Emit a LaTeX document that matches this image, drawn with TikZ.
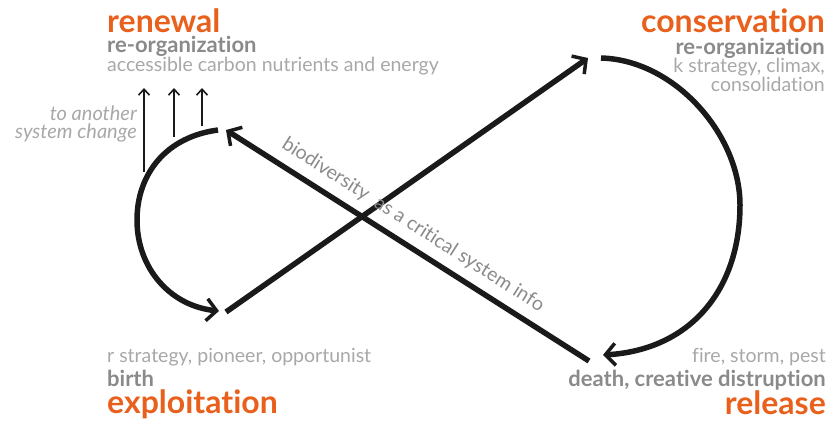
\documentclass[tikz,border=0pt]{standalone}
\usepackage{fontspec}
\setmainfont{Lato}[Ligatures=NoCommon]
\usetikzlibrary{arrows.meta}
\definecolor{phaseorange}{HTML}{E8601C}
\definecolor{phasegrey}{HTML}{8A8A8A}
\definecolor{notegrey}{HTML}{A8A8A8}
\definecolor{cycleblack}{HTML}{1A1A1A}

\begin{document}
\begin{tikzpicture}[x=1pt,y=-1pt]
        \tikzset{phase/.style = {inner sep=0pt,text=phaseorange,font=\fontsize{32}{32}\selectfont\bfseries}};
        \tikzset{stage/.style = {inner sep=0pt,text=phasegrey,font=\fontsize{22}{22}\selectfont\bfseries}};
        \tikzset{note/.style = {inner sep=0pt,text=notegrey,font=\fontsize{19.5}{19.5}\selectfont}};
        \tikzset{cycle/.style = {draw=cycleblack,line width=5.5pt,-{Straight Barb[length=10pt,width=22pt,line width=3.5pt]}}};
        \tikzset{escape/.style = {draw=cycleblack,line width=1.8pt,-{Straight Barb[length=6pt,width=11pt,line width=1.6pt]}}};
        \useasboundingbox (0,0) rectangle (833,425);
        \node[phase,anchor=base west] (renewal) at (107,33) {renewal};
        \node[stage,anchor=base west] (reorgl) at (107,53) {re-organization};
        \node[note,anchor=base west] (accessible) at (107,72) {accessible carbon nutrients and energy};
        \node[note,anchor=base east,font=\fontsize{20}{20}\selectfont\itshape] (another) at (137,121) {to another};
        \node[note,anchor=base east,font=\fontsize{20}{20}\selectfont\itshape] (syschange) at (137,139) {system change};
        \node[phase,anchor=base east] (conservation) at (825,33) {conservation};
        \node[stage,anchor=base east] (reorgr) at (825,55) {re-organization};
        \node[note,anchor=base east] (kstrategy) at (825,73) {k strategy, climax,};
        \node[note,anchor=base east] (consolidation) at (825,92) {consolidation};
        \node[note,anchor=base west] (rstrategy) at (107,362) {r strategy, pioneer, opportunist};
        \node[stage,anchor=base west] (birth) at (107,386) {birth};
        \node[phase,anchor=base west] (exploitation) at (107,413) {exploitation};
        \node[note,anchor=base east] (fire) at (826,362) {fire, storm, pest};
        \node[stage,anchor=base east] (death) at (826,386) {death, creative distruption};
        \node[phase,anchor=base east] (release) at (826,414) {release};
        \coordinate (ltop) at (218,130);
        \coordinate (lbot) at (219,311);
        \coordinate (rtop) at (601,58);
        \coordinate (rbot) at (603,355);
        \coordinate (xstart) at (226,312);
        \coordinate (xtip) at (588,58);
        \coordinate (ystart) at (589,361);
        \coordinate (ytip) at (226,130);
        \coordinate (foot1) at (144,172);
        \coordinate (foot2) at (174,137);
        \coordinate (foot3) at (202,126);
        \coordinate (head1) at (144,88);
        \coordinate (head2) at (174,88);
        \coordinate (head3) at (202,88);
        \draw[cycle] (ltop) .. controls (165,137) and (137,175) .. (137,220) .. controls (137,268) and (170,306) .. (lbot);
        \draw[cycle] (rtop) .. controls (675,60) and (740,135) .. (740,205) .. controls (740,290) and (690,350) .. (rbot);
        \draw[cycle] (xstart) -- (xtip);
        \draw[cycle] (ystart) -- (ytip);
        \node[note,text=phasegrey,rotate=-32.5] (bioinfo) at (413,225) {biodiversity\ \ as a critical system info};
        \draw[escape] (foot1) -- (head1);
        \draw[escape] (foot2) -- (head2);
        \draw[escape] (foot3) -- (head3);
\end{tikzpicture}
\end{document}
